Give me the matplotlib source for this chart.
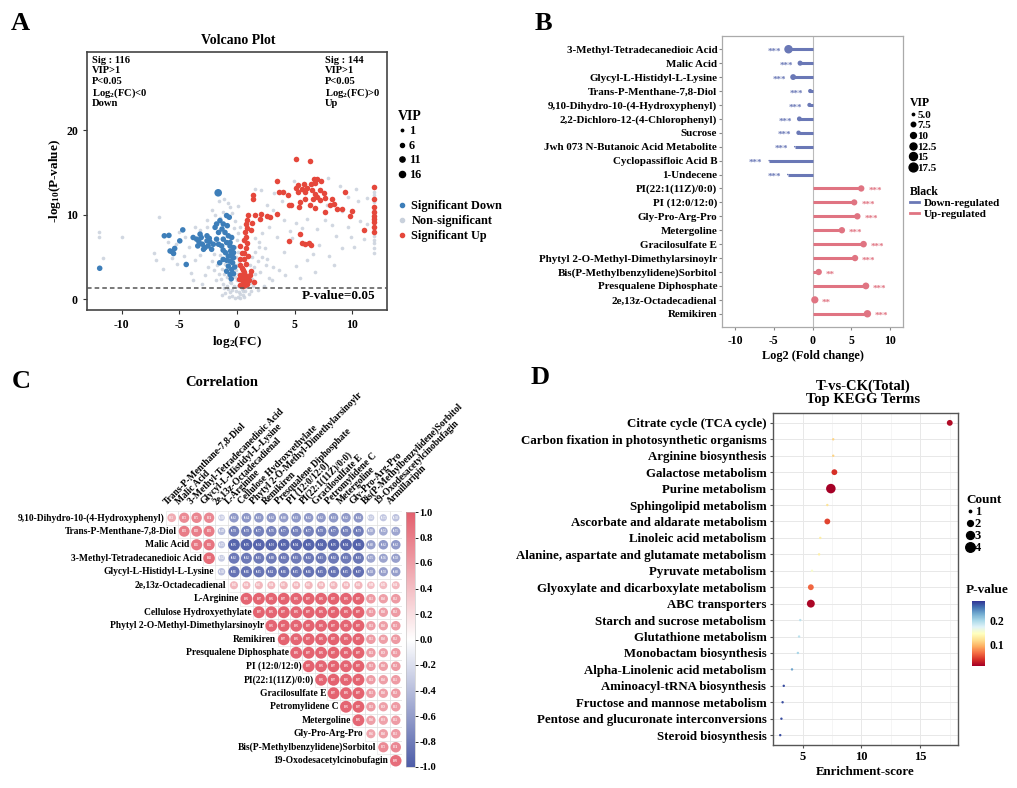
import numpy as np
import matplotlib
matplotlib.use('Agg')
import matplotlib.pyplot as plt
from matplotlib.colors import LinearSegmentedColormap, Normalize
from matplotlib.lines import Line2D
from matplotlib.patches import Rectangle

plt.rcParams['font.family'] = ['Liberation Serif', 'DejaVu Serif']
plt.rcParams['font.weight'] = 'bold'
plt.rcParams['axes.labelweight'] = 'bold'
plt.rcParams['axes.titleweight'] = 'bold'
plt.rcParams['axes.unicode_minus'] = False
plt.rcParams['mathtext.fontset'] = 'custom'
plt.rcParams['mathtext.rm'] = 'Liberation Serif:bold'
plt.rcParams['mathtext.it'] = 'Liberation Serif:bold'
plt.rcParams['mathtext.bf'] = 'Liberation Serif:bold'

# ---------------- Panel A data (volcano) ----------------
up_x = [5.1, 6.35, 3.45, 1.42, 1.36, 6.67, 6.96, 7.25, 6.8, 6.4, 5.8, 5.3, 5.1, 5.6, 6.1, 5.3, 5.9, 6.5, 6.8, 7.2,
        7.5, 6.9, 6.6, 7.2, 7.6, 5.85, 5.5, 4.7, 5.4, 6.3, 6.8, 7.65, 8.1, 8.2, 8.4, 8.7, 9.1, 9.4, 9.8, 10.0,
        4.46, 4.0, 3.6, 4.5, 11.0, 11.9, 11.9, 11.9, 11.9, 11.9, 11.9, 11.9, 11.9, 11.9, 2.6, 2.9, 3.45, 2.0, 2.1, 1.6,
        5.5, 5.6, 5.9, 6.2, 6.4, 4.5, 0.98, 0.9, 0.8, 0.9, 0.7, 0.8, 0.57, 0.9, 0.8, 0.57, 0.98, 0.57, 0.8, 0.4,
        1.2, 1.5, 0.3, 0.5, 0.7, 0.9, 0.4, 0.6, 0.8, 1.0, 0.3, 0.5, 0.7, 0.9, 0.2, 1.1, 0.6, 0.26, 0.4, 0.26,
        0.3, 0.5, 1.3, 1.2]
up_y = [16.6, 16.4, 14.0, 12.3, 11.9, 14.2, 14.2, 14.0, 13.8, 13.6, 13.6, 13.5, 13.2, 13.0, 13.2, 12.7, 12.7, 12.9, 12.5, 12.9,
        12.6, 12.1, 11.9, 11.7, 12.0, 11.9, 11.5, 11.1, 10.9, 11.1, 10.8, 10.3, 11.1, 11.9, 11.3, 10.7, 10.7, 12.7, 9.9, 10.5,
        12.3, 12.7, 12.7, 11.1, 8.2, 13.25, 11.9, 10.9, 10.3, 9.9, 9.5, 9.1, 8.5, 8.0, 9.9, 9.7, 10.1, 9.5, 10.1, 10.0,
        7.7, 6.6, 6.5, 6.6, 6.4, 6.9, 10.0, 9.4, 8.9, 8.4, 7.9, 7.3, 7.0, 6.6, 6.1, 5.5, 5.1, 4.7, 4.2, 3.7,
        3.3, 2.0, 2.9, 2.6, 2.8, 2.5, 2.2, 2.0, 2.1, 2.3, 1.7, 1.6, 1.7, 1.8, 2.4, 2.9, 3.2, 6.3, 5.5, 4.7,
        4.0, 3.5, 9.0, 8.2]

down_x = [-1.63, -6.3, -5.9, -5.8, -5.5, -5.4, -5.6, -4.96, -4.7, -4.4, -11.9, -3.8, -3.5, -3.3, -3.1, -3.0, -2.6, -2.5,
          -2.35, -2.78, -3.4, -2.2, -2.05, -3.2, -2.6, -1.48, -1.19, -1.77, -0.9, -0.67, -1.3, -1.04, -1.6, -1.9, -0.75,
          -1.19, -1.77, -0.9, -0.61, -1.33, -0.55, -0.75, -0.46, -0.6, -0.38, -0.75, -0.46, -0.9, -0.6, -0.46, -0.3,
          -1.2, -1.5, -0.6, -0.46, -0.3, -0.84, -2.9, -0.3, -0.5, -0.2, -1.0, -0.3, -2.4, -1.6, -1.2, -0.9]
down_y = [12.6, 7.5, 7.55, 5.7, 5.4, 6.0, 5.6, 6.9, 8.2, 4.1, 3.65, 7.3, 7.1, 6.8, 7.3, 6.5, 6.9, 6.3,
          6.8, 6.1, 6.3, 5.9, 6.5, 7.7, 7.5, 9.3, 8.9, 8.9, 9.9, 9.7, 8.3, 7.9, 7.9, 8.5, 7.5,
          7.1, 7.1, 6.7, 6.3, 6.3, 5.7, 5.1, 5.1, 4.5, 4.3, 3.9, 3.5, 3.3, 2.9, 5.5, 4.9,
          4.7, 4.3, 6.7, 7.3, 6.1, 8.7, 5.9, 3.0, 2.4, 3.8, 5.5, 5.5, 7.2, 6.5, 5.8, 4.6]

ns_x = [-0.2, 0.1, 0.3, -0.4, 0.5, -0.6, 0.2, 0.7, -0.1, -0.8, 0.4, 1.0, -1.0, -0.3, 0.1, -0.5, 0.0, -0.2, 0.1, -0.1,
        0.0, 0.2, -0.1, 0.1, -0.2, 0.0, 0.1, -0.3, -1.2, -1.4, -1.1, -1.3, -1.6, -1.8, -2.0, -1.7, -2.2, -2.5, -2.8, -1.0,
        -1.5, -2.0, 1.2, 1.4, 1.3, 1.6, 1.5, 1.8, 2.0, 1.1, 1.3, 1.6, 1.9, 2.2, 2.5, 2.8, 2.3, 1.8, -1.3, -0.9,
        -12.0, -12.0, -10.0, -11.6, -7.2, -6.8, -7.0, -6.4, -5.6, -5.2, -4.6, -4.0, -3.6, -3.2, -3.2, -2.6, -2.2, -1.6, -1.1, -2.6,
        -4.5, -5.0, -3.8, -3.0, -6.0, -5.3, -4.2, -3.6, -1.9, -1.2, -0.6, -0.2, 0.3, -0.8, 0.1, 1.6, 1.9, 2.4, 2.6, 3.1,
        3.6, 2.2, 2.8, 3.2, 3.9, 4.1, 4.6, 5.1, 5.6, 6.1, 6.6, 7.1, 7.6, 8.0, 8.6, 9.1, 9.6, 10.1, 10.5, 11.0,
        9.1, 7.8, 6.1, 5.1, 4.1, 2.1, 1.6, 3.1, 4.9, 7.9, 8.9, 10.3, 11.3, 3.0, 4.2, 5.5, 6.8, 8.4, 9.6, 10.7,
        2.6, 3.5, 4.8, 6.9, 8.2, 9.9, 11.3, 11.9, 11.9, 11.9, 11.9, 11.9, 11.9, 11.9, 11.9, 11.9, 11.9, 11.9, -1.5, -0.4,
        -0.7, 0.6, -0.4, 0.3, -0.9, 0.8, -0.6, 0.5, -1.1, 1.1]
ns_y = [0.1, 0.3, 0.1, 0.4, 0.5, 0.8, 0.8, 0.9, 1.0, 1.2, 1.2, 0.6, 0.7, 1.5, 1.6, 1.9, 2.2, 2.6, 3.0, 3.5,
        4.0, 4.5, 5.0, 5.6, 6.2, 7.0, 7.8, 8.4, 1.8, 2.4, 3.0, 3.6, 3.0, 2.2, 3.4, 4.0, 4.5, 3.8, 2.8, 4.2,
        5.2, 5.4, 1.0, 1.6, 2.4, 3.0, 3.8, 4.5, 3.2, 4.0, 5.0, 5.6, 6.2, 5.0, 4.0, 2.5, 1.6, 1.1, 0.5, 2.6,
        7.9, 7.3, 7.3, 4.9, 5.5, 9.7, 4.6, 3.6, 4.9, 4.2, 5.1, 3.1, 4.6, 5.2, 8.2, 9.4, 10.6, 11.6, 11.9, 8.5,
        7.4, 8.0, 2.2, 1.8, 6.8, 6.5, 6.2, 8.5, 10.0, 10.3, 10.9, 9.3, 8.6, 11.4, 11.0, 7.2, 6.8, 6.0, 4.8, 3.8,
        3.4, 7.8, 8.6, 12.6, 11.6, 9.4, 8.1, 9.0, 8.4, 9.5, 5.4, 6.4, 9.4, 5.1, 7.5, 6.1, 12.1, 6.2, 11.6, 7.1,
        10.5, 11.1, 4.6, 3.9, 5.6, 12.9, 13.1, 10.6, 14.0, 14.3, 13.4, 13.0, 12.0, 2.2, 2.8, 2.5, 3.2, 4.0, 8.6, 9.2,
        11.2, 7.4, 7.2, 8.3, 8.8, 7.4, 8.9, 5.5, 6.0, 6.6, 7.0, 7.5, 8.3, 9.7, 10.6, 11.5, 12.3, 12.7, 9.6, 10.2,
        0.2, 0.3, 1.1, 0.6, 1.6, 1.4, 2.0, 0.9, 1.3, 1.9]

n_sig_down = 116
n_sig_up = 144
vip_legend = [1, 6, 11, 16]

# ---------------- Panel B data (lollipop) ----------------
names_B = ['3-Methyl-Tetradecanedioic Acid', 'Malic Acid', 'Glycyl-L-Histidyl-L-Lysine', 'Trans-P-Menthane-7,8-Diol',
           '9,10-Dihydro-10-(4-Hydroxyphenyl)', '2,2-Dichloro-12-(4-Chlorophenyl)', 'Sucrose',
           'Jwh 073 N-Butanoic Acid Metabolite', 'Cyclopassifloic Acid B', '1-Undecene', 'PI(22:1(11Z)/0:0)',
           'PI (12:0/12:0)', 'Gly-Pro-Arg-Pro', 'Metergoline', 'Gracilosulfate E', 'Phytyl 2-O-Methyl-Dimethylarsinoylr',
           'Bis(P-Methylbenzylidene)Sorbitol', 'Presqualene Diphosphate', '2e,13z-Octadecadienal', 'Remikiren']
fc_B = [-3.1, -1.6, -2.5, -0.3, -0.4, -1.7, -1.8, -2.3, -5.6, -3.2, 6.3, 5.4, 5.8, 3.8, 6.6, 5.5, 0.8, 6.9, 0.3, 7.1]
vip_B = [16.5, 8.5, 10, 7, 7, 8, 7.5, 4.4, 4.4, 4.4, 11, 10.5, 11, 11, 11.5, 11, 11, 12, 13, 13.5]
sig_B = ['***'] * 16 + ['**', '***', '**', '***']
vip_B_legend = [5.0, 7.5, 10, 12.5, 15, 17.5]

# ---------------- Panel C data (correlation, upper triangle) ----------------
rows_C = ['9,10-Dihydro-10-(4-Hydroxyphenyl)', 'Trans-P-Menthane-7,8-Diol', 'Malic Acid',
          '3-Methyl-Tetradecanedioic Acid', 'Glycyl-L-Histidyl-L-Lysine', '2e,13z-Octadecadienal', 'L-Arginine',
          'Cellulose Hydroxyethylate', 'Phytyl 2-O-Methyl-Dimethylarsinoylr', 'Remikiren', 'Presqualene Diphosphate',
          'PI (12:0/12:0)', 'PI(22:1(11Z)/0:0)', 'Gracilosulfate E', 'Petromylidene C', 'Metergoline',
          'Gly-Pro-Arg-Pro', 'Bis(P-Methylbenzylidene)Sorbitol', '19-Oxodesacetylcinobufagin']
cols_C = ['Trans-P-Menthane-7,8-Diol', 'Malic Acid', '3-Methyl-Tetradecanedioic Acid', 'Glycyl-L-Histidyl-L-Lysine',
          '2e,13z-Octadecadienal', 'L-Arginine', 'Cellulose Hydroxyethylate', 'Phytyl 2-O-Methyl-Dimethylarsinoylr',
          'Remikiren', 'Presqualene Diphosphate', 'PI (12:0/12:0)', 'PI(22:1(11Z)/0:0)', 'Gracilosulfate E',
          'Petromylidene C', 'Metergoline', 'Gly-Pro-Arg-Pro', 'Bis(P-Methylbenzylidene)Sorbitol',
          '19-Oxodesacetylcinobufagin', 'Armillaripin']
corr_C = [
    [0.52, 0.72, 0.75, 0.74, -0.30, -0.62, -0.64, -0.63, -0.62, -0.60, -0.63, -0.62, -0.62, -0.63, -0.62, -0.64, -0.32, -0.35, -0.38],
    [0.82, 0.80, 0.82, -0.40, -0.78, -0.78, -0.77, -0.76, -0.77, -0.78, -0.77, -0.78, -0.77, -0.78, -0.79, -0.50, -0.52, -0.55],
    [0.85, 0.86, -0.35, -0.95, -0.95, -0.94, -0.93, -0.95, -0.94, -0.95, -0.94, -0.95, -0.94, -0.96, -0.60, -0.62, -0.62],
    [0.92, -0.32, -0.82, -0.82, -0.81, -0.80, -0.82, -0.81, -0.82, -0.81, -0.82, -0.81, -0.83, -0.55, -0.56, -0.58],
    [-0.38, -0.86, -0.86, -0.85, -0.84, -0.86, -0.85, -0.86, -0.85, -0.86, -0.85, -0.87, -0.58, -0.58, -0.60],
    [0.45, 0.44, 0.45, 0.44, 0.45, 0.44, 0.45, 0.44, 0.45, 0.44, 0.46, 0.40, 0.42, 0.44],
    [0.96, 0.97, 0.96, 0.97, 0.96, 0.97, 0.96, 0.97, 0.96, 0.97, 0.62, 0.60, 0.63],
    [0.97, 0.96, 0.97, 0.96, 0.97, 0.96, 0.97, 0.96, 0.97, 0.62, 0.60, 0.63],
    [0.96, 0.97, 0.96, 0.97, 0.96, 0.97, 0.96, 0.97, 0.61, 0.60, 0.62],
    [0.97, 0.96, 0.97, 0.96, 0.97, 0.96, 0.97, 0.62, 0.60, 0.63],
    [0.96, 0.97, 0.96, 0.97, 0.96, 0.97, 0.61, 0.59, 0.62],
    [0.97, 0.96, 0.97, 0.96, 0.97, 0.62, 0.60, 0.63],
    [0.96, 0.97, 0.96, 0.97, 0.61, 0.60, 0.62],
    [0.97, 0.96, 0.97, 0.62, 0.60, 0.63],
    [0.96, 0.97, 0.61, 0.59, 0.62],
    [0.95, 0.60, 0.58, 0.61],
    [0.56, 0.60, 0.62],
    [0.72, 0.74],
    [0.90],
]
cbar_C_ticks = [1.0, 0.8, 0.6, 0.4, 0.2, 0.0, -0.2, -0.4, -0.6, -0.8, -1.0]

# ---------------- Panel D data (KEGG enrichment) ----------------
terms_D = ['Citrate cycle (TCA cycle)', 'Carbon fixation in photosynthetic organisms', 'Arginine biosynthesis',
           'Galactose metabolism', 'Purine metabolism', 'Sphingolipid metabolism', 'Ascorbate and aldarate metabolism',
           'Linoleic acid metabolism', 'Alanine, aspartate and glutamate metabolism', 'Pyruvate metabolism',
           'Glyoxylate and dicarboxylate metabolism', 'ABC transporters', 'Starch and sucrose metabolism',
           'Glutathione metabolism', 'Monobactam biosynthesis', 'Alpha-Linolenic acid metabolism',
           'Aminoacyl-tRNA biosynthesis', 'Fructose and mannose metabolism',
           'Pentose and glucuronate interconversions', 'Steroid biosynthesis']
es_D = [17.5, 7.6, 7.6, 7.7, 7.4, 7.1, 7.1, 6.5, 6.4, 5.8, 5.7, 5.7, 4.8, 4.7, 4.6, 4.1, 3.4, 3.3, 3.2, 3.1]
count_D = [2, 1, 1, 2, 4, 1, 2, 1, 1, 1, 2, 3, 1, 1, 1, 1, 1, 1, 1, 1]
p_D = [0.015, 0.11, 0.11, 0.035, 0.006, 0.12, 0.045, 0.13, 0.13, 0.15, 0.06, 0.012, 0.19, 0.19, 0.2, 0.23,
       0.27, 0.27, 0.27, 0.27]
count_legend = [1, 2, 3, 4]

# ======================================================================
W, H = 1017, 788
fig = plt.figure(figsize=(W / 100, H / 100), dpi=100)


def box(l, t, r, b):
    return [l / W, 1 - b / H, (r - l) / W, (b - t) / H]


def fx(px):
    return px / W


def fy(py):
    return 1 - py / H


for lab, (px, py) in zip('ABCD', [(20, 24), (543, 24), (21, 381), (540, 378)]):
    fig.text(fx(px), fy(py), lab, fontsize=19, ha='center', va='center', fontweight='bold')

# ---------------- Panel A ----------------
blue_A, red_A, grey_A = '#3D7EB9', '#E5473B', '#C9D1DC'
axA = fig.add_axes(box(87, 52, 387, 310))
axA.scatter(ns_x, ns_y, s=7, c=grey_A, alpha=0.85, linewidths=0, zorder=2)
axA.scatter(down_x, down_y, s=[30 if i == 0 else 16 for i in range(len(down_x))], c=blue_A, linewidths=0, zorder=3)
axA.scatter(up_x, up_y, s=16, c=red_A, linewidths=0, zorder=3)
axA.axhline(-np.log10(0.05), ls=(0, (3, 2)), color='#555555', lw=1.1, zorder=4)
axA.set_xlim(-13, 13)
axA.set_ylim(-1.3, 29.3)
axA.set_xticks([-10, -5, 0, 5, 10])
axA.set_yticks([0, 10, 20])
axA.tick_params(labelsize=8.5, length=3, width=0.8, color='#333333')
for s in axA.spines.values():
    s.set_color('#444444')
    s.set_linewidth(1.2)
axA.set_xlabel(r'log$_2$(FC)', fontsize=9.5, labelpad=2)
axA.set_ylabel(r'-log$_{10}$(P-value)', fontsize=9.5, labelpad=2)
fig.text(fx(238), fy(40), 'Volcano Plot', ha='center', va='center', fontsize=10, fontweight='bold')
lines_down = ['Sig : %d' % n_sig_down, 'VIP>1', 'P<0.05', r'Log$_2$(FC)<0', 'Down']
lines_up = ['Sig : %d' % n_sig_up, 'VIP>1', 'P<0.05', r'Log$_2$(FC)>0', 'Up']
line_px = [60.7, 70.7, 81.7, 93.0, 103.3]
for ld, lu, py in zip(lines_down, lines_up, line_px):
    yy = (310 - py) / 258
    axA.text(0.017, yy, ld, transform=axA.transAxes, ha='left', va='center', fontsize=7.6)
    axA.text(0.793, yy, lu, transform=axA.transAxes, ha='left', va='center', fontsize=7.6)
axA.text(0.96, 0.055, 'P-value=0.05', transform=axA.transAxes, ha='right', va='center', fontsize=9.5)

hA = [Line2D([], [], ls='', marker='o', color='black', markersize=np.sqrt(2 + v * 1.1)) for v in vip_legend]
legA1 = axA.legend(hA, [str(v) for v in vip_legend], title='VIP', loc='upper left',
                   bbox_to_anchor=(fx(398), fy(110)), bbox_transform=fig.transFigure, frameon=False,
                   fontsize=8.8, title_fontsize=10, handlelength=0.6, handletextpad=0.3, labelspacing=0.2,
                   borderaxespad=0, borderpad=0)
legA1._legend_box.align = 'left'
axA.add_artist(legA1)
hA2 = [Line2D([], [], ls='', marker='o', color=c, markersize=3) for c in [blue_A, grey_A, red_A]]
legA2 = axA.legend(hA2, ['Significant Down', 'Non-significant', 'Significant Up'], loc='upper left',
                   bbox_to_anchor=(fx(398), fy(200)), bbox_transform=fig.transFigure, frameon=False,
                   fontsize=8.8, handlelength=0.6, handletextpad=0.5, labelspacing=0.25,
                   borderaxespad=0, borderpad=0)

# ---------------- Panel B ----------------
blue_B, red_B = '#6A78B6', '#E07482'
axB = fig.add_axes(box(722, 36, 903, 327))
yB = np.arange(len(names_B))
colB = [blue_B if v < 0 else red_B for v in fc_B]
axB.axvline(0, color='#BBBBBB', lw=0.8, zorder=1)
axB.hlines(yB, 0, fc_B, colors=colB, lw=2.2, zorder=2)
axB.scatter(fc_B, yB, s=[max(3 * (v - 4), 0.5) for v in vip_B], c=colB, linewidths=0, zorder=3)
for yy, v, st, c in zip(yB, fc_B, sig_B, colB):
    if v < 0:
        axB.text(v - 0.9, yy + 0.18, st, ha='right', va='center', fontsize=6.5, color=c)
    else:
        axB.text(v + 0.9, yy + 0.18, st, ha='left', va='center', fontsize=6.5, color=c)
axB.set_ylim(19.95, -0.95)
axB.set_xlim(-11.7, 11.7)
axB.set_yticks(yB)
axB.set_yticklabels(names_B, fontsize=7.9)
axB.set_xticks([-10, -5, 0, 5, 10])
axB.tick_params(axis='x', labelsize=8.5, length=2.5, color='#888888')
axB.tick_params(axis='y', length=2, color='#888888', pad=1.5)
for s in axB.spines.values():
    s.set_color('#AAAAAA')
    s.set_linewidth(0.9)
axB.set_xlabel('Log2 (Fold change)', fontsize=8.8, labelpad=2)

hB = [Line2D([], [], ls='', marker='o', color='black', markersize=np.sqrt(3 * (v - 4))) for v in vip_B_legend]
legB1 = axB.legend(hB, ['%g' % v if v != 5.0 else '5.0' for v in vip_B_legend], title='VIP', loc='upper left',
                   bbox_to_anchor=(fx(910), fy(97)), bbox_transform=fig.transFigure, frameon=False,
                   fontsize=8, title_fontsize=8.5, handlelength=0.5, handletextpad=0.15, labelspacing=0.08,
                   borderaxespad=0, borderpad=0)
legB1._legend_box.align = 'left'
axB.add_artist(legB1)
hB2 = [Line2D([], [], color=c, lw=2) for c in [blue_B, red_B]]
legB2 = axB.legend(hB2, ['Down-regulated', 'Up-regulated'], title='Black', loc='upper left',
                   bbox_to_anchor=(fx(910), fy(186)), bbox_transform=fig.transFigure, frameon=False,
                   fontsize=8, title_fontsize=8.5, handlelength=0.8, handletextpad=0.4, labelspacing=0.05,
                   borderaxespad=0, borderpad=0)
legB2._legend_box.align = 'left'

# ---------------- Panel C ----------------
cmapC = LinearSegmentedColormap.from_list('corr', ['#4E5DA8', '#FFFFFF', '#E35F6D'])
normC = Normalize(-1, 1)
axC = fig.add_axes(box(165.5, 511, 402, 767.5))
axC.set_xlim(-0.5, len(cols_C) - 0.5)
axC.set_ylim(len(rows_C) - 0.5, -0.5)
axC.axis('off')
cx, cy, cv = [], [], []
for i, row in enumerate(corr_C):
    for k, val in enumerate(row):
        j = i + k
        axC.add_patch(Rectangle((j - 0.5, i - 0.5), 1, 1, fill=False, ec='#E2E2E2', lw=0.4, zorder=1))
        cx.append(j)
        cy.append(i)
        cv.append(val)
axC.scatter(cx, cy, s=[76 * abs(v) for v in cv], c=cv, cmap=cmapC, norm=normC, linewidths=0, zorder=2)
for x, y, v in zip(cx, cy, cv):
    axC.text(x, y, '%.2f' % v, fontsize=2.0, color='white', ha='center', va='center', zorder=3)
for i, nm in enumerate(rows_C):
    axC.text(i - 0.6, i, nm, ha='right', va='center', fontsize=6.85)
for j, nm in enumerate(cols_C):
    axC.text(j - 0.3, -0.85, nm, ha='left', va='bottom', rotation=45, rotation_mode='anchor', fontsize=6.85)
fig.text(fx(222), fy(383), 'Correlation', ha='center', va='center', fontsize=10.5, fontweight='bold')
caxC = fig.add_axes(box(406, 512, 415, 767))
smC = plt.cm.ScalarMappable(norm=normC, cmap=cmapC)
cbC = fig.colorbar(smC, cax=caxC, ticks=cbar_C_ticks)
cbC.ax.set_yticklabels(['%.1f' % t for t in cbar_C_ticks], fontsize=7.6)
cbC.ax.tick_params(length=2, width=0.6, pad=1)
cbC.outline.set_linewidth(0.4)
cbC.outline.set_edgecolor('#BBBBBB')

# ---------------- Panel D ----------------
cmapD = plt.get_cmap('RdYlBu')
normD = Normalize(0.008, 0.28)
axD = fig.add_axes(box(772.7, 413, 958, 745))
yD = np.arange(len(terms_D))
axD.scatter(es_D, yD, s=[3 + 14.7 * (c - 1) for c in count_D], c=p_D, cmap=cmapD, norm=normD,
            linewidths=0, zorder=3)
axD.set_ylim(len(terms_D) - 0.4, -0.6)
axD.set_xlim(2.46, 18.2)
axD.set_yticks(yD)
axD.set_yticklabels(terms_D, fontsize=9.3)
axD.set_xticks([5, 10, 15])
axD.set_xticks([2.5, 7.5, 12.5, 17.5], minor=True)
axD.grid(True, which='major', color='#E8E8E8', lw=0.7, zorder=0)
axD.grid(True, which='minor', axis='x', color='#F2F2F2', lw=0.5, zorder=0)
axD.set_axisbelow(True)
axD.tick_params(axis='both', which='major', labelsize=9.3, length=2.5, color='#555555', pad=2)
axD.tick_params(axis='x', which='major', labelsize=9)
axD.tick_params(axis='x', which='minor', length=0)
for s in axD.spines.values():
    s.set_color('#555555')
    s.set_linewidth(1.0)
axD.set_xlabel('Enrichment-score', fontsize=9.3, labelpad=2)
fig.text(fx(863), fy(393), 'T-vs-CK(Total)\nTop KEGG Terms', ha='center', va='center', fontsize=10.5,
         fontweight='bold', linespacing=1.05)
hD = [Line2D([], [], ls='', marker='o', color='black', markersize=np.sqrt(3 + 14.7 * (c - 1))) for c in count_legend]
legD = axD.legend(hD, [str(c) for c in count_legend], title='Count', loc='upper left',
                  bbox_to_anchor=(fx(966), fy(494)), bbox_transform=fig.transFigure, frameon=False,
                  fontsize=9, title_fontsize=9.5, handlelength=0.6, handletextpad=0.1, labelspacing=0.0,
                  borderaxespad=0, borderpad=0)
legD._legend_box.align = 'left'
fig.text(fx(966), fy(590), 'P-value', ha='left', va='center', fontsize=9.5, fontweight='bold')
caxD = fig.add_axes(box(972, 601, 985, 666))
smD = plt.cm.ScalarMappable(norm=normD, cmap=cmapD)
cbD = fig.colorbar(smD, cax=caxD, ticks=[0.1, 0.2])
cbD.ax.set_yticklabels(['0.1', '0.2'], fontsize=8.5)
cbD.ax.tick_params(length=0, pad=3)
cbD.outline.set_linewidth(0)

fig.savefig('out.png', dpi=100)
